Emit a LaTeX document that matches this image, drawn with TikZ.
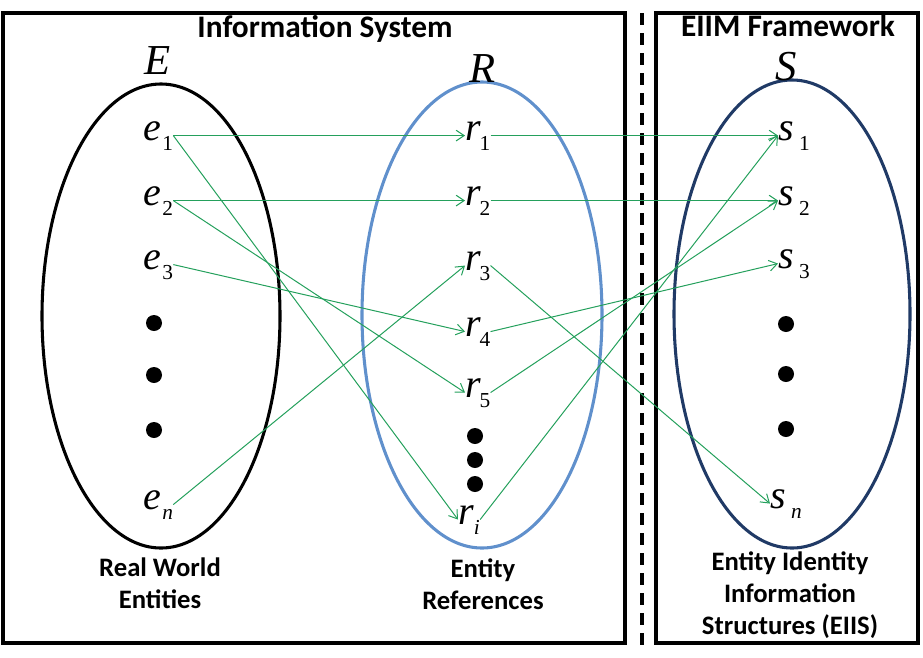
\documentclass[tikz,border=0pt]{standalone}
\usepackage{fontspec}
\setmainfont{Liberation Serif}
\newfontfamily\capfont{Carlito}
\usetikzlibrary{arrows.meta}
\definecolor{cgreen}{RGB}{36,160,92}
\definecolor{cref}{RGB}{96,144,204}
\definecolor{cstruct}{RGB}{32,58,102}
% letter with a lowered index, index kept out of the box height
\newcommand{\elt}[3][1pt]{\textit{#2}\kern#1\raisebox{-7.5pt}{\smash{\fontsize{16}{16}\selectfont #3}}}
\tikzset{
  px/.style={x=0.75pt,y=-0.75pt},
  frame/.style={line width=2.3pt},
  setring/.style={line width=2.3pt},
  setname/.style={inner sep=0pt,anchor=base,font=\fontsize{32}{32}\selectfont\itshape},
  elem/.style={inner sep=0pt,anchor=base west,font=\fontsize{30}{30}\selectfont},
  dotnode/.style={circle,fill,inner sep=0pt,minimum size=12pt},
  link/.style={cgreen,line width=0.75pt,-{Straight Barb[length=6pt,width=8pt]}},
  boxtitle/.style={inner sep=0pt,anchor=base,font=\capfont\bfseries\fontsize{23.5}{24}\selectfont},
  caption/.style={inner sep=0pt,anchor=north,align=center,font=\capfont\bfseries\fontsize{20}{24}\selectfont}
}

\begin{document}
\begin{tikzpicture}[px]
    \useasboundingbox (0,0) rectangle (923,657);
    % frames
    \draw[frame] (3,13) rectangle (625,643);
    \draw[frame] (656,13) rectangle (918,643);
    \draw[frame,dash pattern=on 9pt off 6pt] (642,13) -- (642,652);
    \node[boxtitle] (infosys) at (325,37) {Information System};
    \node[boxtitle] (eiim) at (788,36) {EIIM Framework};
    % the three sets
    \draw[setring] (161,316) ellipse [x radius=119, y radius=232];
    \draw[setring,cref] (482,315) ellipse [x radius=120, y radius=233];
    \draw[setring,cstruct] (792,314) ellipse [x radius=118, y radius=234];
    \node[setname] (setE) at (158,74) {E};
    \node[setname] (setR) at (483,82) {R};
    \node[setname] (setS) at (786,80) {S};
    % elements
    \node[elem] (e1) at (143,140) {\elt{e}{1}};
    \node[elem] (e2) at (143,205) {\elt{e}{2}};
    \node[elem] (e3) at (143,269) {\elt{e}{3}};
    \node[elem] (en) at (143,509) {\elt{e}{\textit{n}}};
    \node[elem] (r1) at (465,140) {\elt[-1pt]{r}{1}};
    \node[elem] (r2) at (465,205) {\elt[-1pt]{r}{2}};
    \node[elem] (r3) at (465,270) {\elt[-1pt]{r}{3}};
    \node[elem] (r4) at (465,336) {\elt[-1pt]{r}{4}};
    \node[elem] (r5) at (465,397) {\elt[-1pt]{r}{5}};
    \node[elem] (ri) at (458,524) {\elt[0pt]{r}{\textit{i}}};
    \node[elem] (s1) at (778,140) {\elt[4pt]{s}{1}};
    \node[elem] (s2) at (778,205) {\elt[4pt]{s}{2}};
    \node[elem] (s3) at (778,268) {\elt[4pt]{s}{3}};
    \node[elem] (sn) at (770,508) {\elt[4pt]{s}{\textit{n}}};
    \foreach \y [count=\i] in {323,375,430} \node[dotnode] (edot\i) at (154,\y) {};
    \foreach \y [count=\i] in {436,460,484} \node[dotnode] (rdot\i) at (475,\y) {};
    \foreach \y [count=\i] in {324,374,429} \node[dotnode] (sdot\i) at (786,\y) {};
    % mappings
    \draw[link] (e1.east) -- (r1.west);
    \draw[link] (e1.east) -- (ri.west);
    \draw[link] (e2.east) -- (r2.west);
    \draw[link] (e2.east) -- (r5.west);
    \draw[link] (e3.east) -- (r4.west);
    \draw[link] (en.east) -- (r3.west);
    \draw[link] (r1.east) -- (s1.west);
    \draw[link] (r2.east) -- (s2.west);
    \draw[link] (r3.east) -- (sn.west);
    \draw[link] (r4.east) -- (s3.west);
    \draw[link] (r5.east) -- (s2.west);
    \draw[link] (ri.east) -- (s1.west);
    % captions
    \node[caption] (realcap) at (160,558) {Real World\\Entities};
    \node[caption] (refcap) at (483,558) {Entity\\References};
    \node[caption] (eiiscap) at (790,551) {Entity Identity\\Information\\Structures (EIIS)};
\end{tikzpicture}
\end{document}
